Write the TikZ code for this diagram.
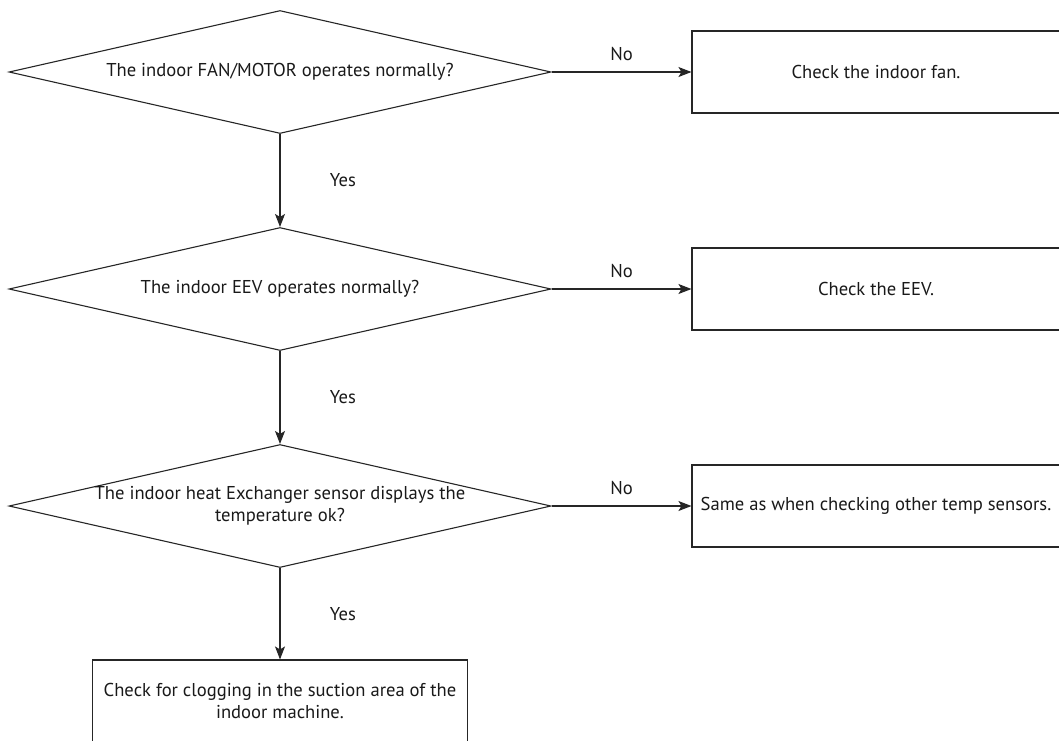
\documentclass[tikz,border=0pt]{standalone}
\usepackage{fontspec}
\setmainfont{PT Sans}
\usetikzlibrary{shapes.geometric,arrows.meta,positioning}

\begin{document}
\begin{tikzpicture}[
    x=1pt, y=-1pt,
    font=\fontsize{18.6}{22}\selectfont,
    decision/.style={diamond, draw=black!85, line width=1.1pt,
                     minimum width=542pt, minimum height=123pt, inner sep=0pt},
    qtext/.style={align=center, text=black!90},
    box/.style={draw=black!85, line width=1.1pt, minimum width=368pt,
                minimum height=82pt, align=center, text=black!90},
    arr/.style={-{Stealth[length=13pt, width=10pt, inset=3pt]},
                line width=1.1pt, draw=black!85},
    lbl/.style={text=black!90},
  ]
  \useasboundingbox (0,0) rectangle (1059,740);
  \clip (0,0) rectangle (1059,740);

  % questions
  \node[decision] (fanq) at (280,72) {};
  \node[qtext] (fanqt) at (fanq) {The indoor FAN/MOTOR operates normally?};
  \node[decision] (eevq) at (280,289) {};
  \node[qtext] (eevqt) at (eevq) {The indoor EEV operates normally?};
  \node[decision] (hexq) at (280,506) {};
  \node[qtext] (hexqt) at (hexq) {The indoor heat Exchanger sensor displays the\\temperature ok?};

  % actions
  \node[box] (fan) at (876,72) {Check the indoor fan.};
  \node[box] (eev) at (876,289) {Check the EEV.};
  \node[box] (temp) at (876,506) {Same as when checking other temp sensors.};
  \node[box, minimum width=375pt] (clog) at (280,701)
       {Check for clogging in the suction area of the\\indoor machine.};

  \draw[arr] (fanq) -- node[lbl, above=7pt]{No} (fan);
  \draw[arr] (eevq) -- node[lbl, above=7pt]{No} (eev);
  \draw[arr] (hexq) -- node[lbl, above=7pt]{No} (temp);
  \draw[arr] (fanq) -- node[lbl, right=46pt]{Yes} (eevq);
  \draw[arr] (eevq) -- node[lbl, right=46pt]{Yes} (hexq);
  \draw[arr] (hexq) -- node[lbl, right=46pt]{Yes} (clog);
\end{tikzpicture}
\end{document}
